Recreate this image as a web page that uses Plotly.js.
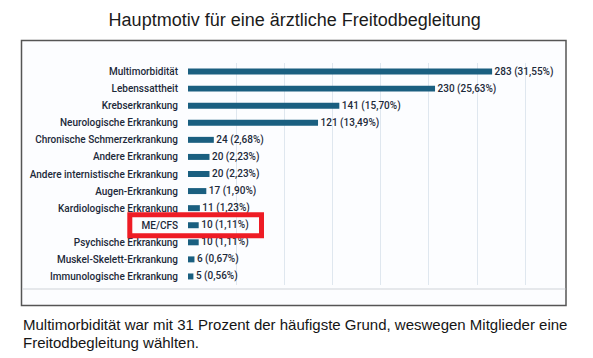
<!DOCTYPE html>
<html>
<head>
<meta charset="utf-8">
<script src="https://cdn.plot.ly/plotly-3.0.1.min.js"></script>
<style>html,body{margin:0;padding:0;background:#fff;}#chart{width:593px;height:358px;}</style>
</head>
<body>
<div id="chart"></div>
<script>
var categories = ['Multimorbidität','Lebenssattheit','Krebserkrankung','Neurologische Erkrankung','Chronische Schmerzerkrankung','Andere Erkrankung','Andere internistische Erkrankung','Augen-Erkrankung','Kardiologische Erkrankung','ME/CFS','Psychische Erkrankung','Muskel-Skelett-Erkrankung','Immunologische Erkrankung'];
var counts = [283,230,141,121,24,20,20,17,11,10,10,6,5];
var percents = [31.55,25.63,15.70,13.49,2.68,2.23,2.23,1.90,1.23,1.11,1.11,0.67,0.56];
var gridPercents = [0,5,10,15,20,25,30,35];
var titleText = 'Hauptmotiv für eine ärztliche Freitodbegleitung';
var captionLines = ['Multimorbidität war mit 31 Prozent der häufigste Grund, weswegen Mitglieder eine', 'Freitodbegleitung wählten.'];
var highlight = 'ME/CFS';

var W = 593, H = 358;
var M = {l: 188, r: 58, t: 63, b: 73, pad: 0};
var pw = W - M.l - M.r, ph = H - M.t - M.b;
function px(x){ return (x - M.l) / pw; }
function py(y){ return (H - M.b - y) / ph; }

var labels = counts.map(function(c, i){
  return '\u00a0' + c + ' (' + percents[i].toFixed(2).replace('.', ',') + '%)';
});
var hi = categories.indexOf(highlight);

var fontFam = 'Roboto, "Liberation Sans", Arial, sans-serif';
var trace = {
  type: 'bar', orientation: 'h',
  y: categories, x: percents,
  text: labels, textposition: 'outside', cliponaxis: false, constraintext: 'none',
  textfont: {family: fontFam, size: 10, color: '#1d2a3a', weight: 500},
  marker: {color: '#1a5f80'},
  width: 0.35, hoverinfo: 'skip'
};

var capFont = {family: '"Liberation Sans", Arial, sans-serif', size: 15, color: '#151515'};
var layout = {
  width: W, height: H, margin: M,
  paper_bgcolor: '#ffffff', plot_bgcolor: 'rgba(0,0,0,0)',
  showlegend: false,
  title: {text: titleText, font: {family: '"Liberation Sans", Arial, sans-serif', size: 18, color: '#1b1b1b'},
          xref: 'container', x: 0.497, xanchor: 'center', yref: 'container', y: 1 - 20/H, yanchor: 'middle'},
  xaxis: {range: [0, 36], tickvals: gridPercents, showticklabels: false, ticks: '',
          showgrid: true, gridcolor: '#dfe7ef', gridwidth: 1, zeroline: false, showline: false, fixedrange: true},
  yaxis: {autorange: 'reversed', showgrid: false, zeroline: false, showline: false, ticks: '',
          ticklabelstandoff: 9,
          tickfont: {family: fontFam, size: 10, color: '#1d2a3a', weight: 500}, fixedrange: true},
  shapes: [
    {type: 'rect', layer: 'below', xref: 'paper', yref: 'paper', x0: px(21.5), x1: px(566), y0: py(40.5), y1: py(305.5),
     line: {color: '#555555', width: 1.5}, fillcolor: '#fcfdff'},
    {type: 'line', layer: 'below', xref: 'paper', yref: 'paper', x0: px(22), x1: px(565.5), y0: py(289), y1: py(289),
     line: {color: '#cfd3d8', width: 1}},
    {type: 'rect', layer: 'above', xref: 'paper', yref: 'y', x0: px(129.8), x1: px(261.5), y0: hi - 0.62, y1: hi + 0.62,
     line: {color: '#ee1c25', width: 5}, fillcolor: 'rgba(0,0,0,0)'}
  ],
  annotations: [
    {text: captionLines[0], xref: 'paper', yref: 'paper', x: px(21), y: py(324.5), xanchor: 'left', yanchor: 'middle', align: 'left',
     showarrow: false, font: capFont},
    {text: captionLines[1], xref: 'paper', yref: 'paper', x: px(21), y: py(342.5), xanchor: 'left', yanchor: 'middle', align: 'left',
     showarrow: false, font: capFont}
  ]
};

Plotly.newPlot('chart', [trace], layout, {displayModeBar: false, staticPlot: true});
</script>
</body>
</html>
